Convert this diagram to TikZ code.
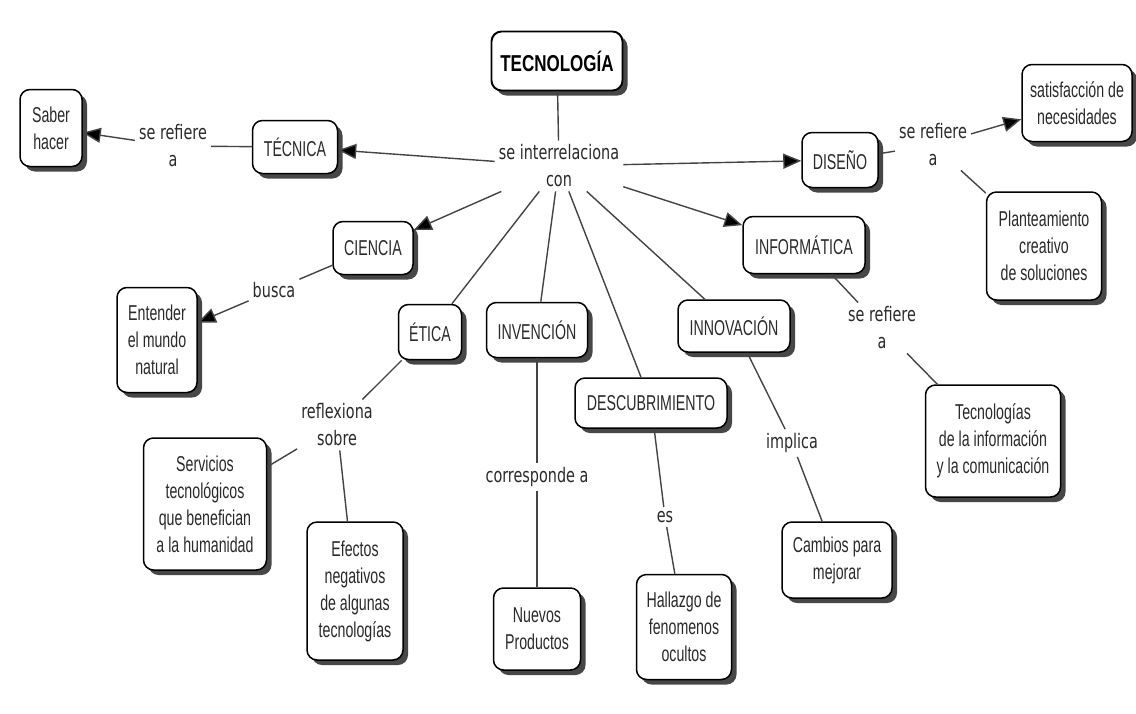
\documentclass[tikz,border=0pt]{standalone}
\usepackage{fontspec}
\setmainfont{Liberation Sans}[FakeStretch=0.66]
\newfontfamily\lblfont{DejaVu Sans}[FakeStretch=0.72]
\newfontfamily\titlefont{Liberation Sans}[FakeStretch=0.74]
\usetikzlibrary{shadows,arrows.meta}
\definecolor{txt}{HTML}{2A2A2A}
\definecolor{ln}{HTML}{444444}
\tikzset{
  box/.style={draw=black, line width=1.5pt, rounded corners=10pt, fill=white, align=center,
    inner sep=2pt, text=txt, font=\fontsize{21.5}{27}\selectfont,
    drop shadow={shadow xshift=5pt, shadow yshift=-5pt, fill=black!72, opacity=1}},
  lbl/.style={align=center, inner sep=4pt, text=txt, font=\lblfont\fontsize{20}{27}\selectfont},
  conn/.style={draw=ln, line width=1.4pt},
  arr/.style={conn, -{Triangle[length=18pt,width=15pt,fill=black]}}
}
\begin{document}
\begin{tikzpicture}[x=1pt,y=-1pt]
\useasboundingbox[fill=white] (0,0) rectangle (1136,713);
% main
\node[box, line width=1.9pt, minimum width=131pt, minimum height=59pt,
  font=\titlefont\bfseries\fontsize{23}{27}\selectfont, text=black] (tec) at (557,61) {TECNOLOGÍA};
\node[lbl] (l0) at (559,166) {se interrelaciona\\con};
% boxes
\node[box, minimum width=62pt, minimum height=77pt] (saber) at (51,128) {Saber\\hacer};
\node[box, minimum width=85pt, minimum height=53pt] (tecn) at (295,147) {TÉCNICA};
\node[box, minimum width=76pt, minimum height=55pt] (dis) at (840,160) {DISEÑO};
\node[box, minimum width=110pt, minimum height=77pt] (sat) at (1077,103) {satisfacción de\\necesidades};
\node[box, minimum width=115pt, minimum height=108pt] (plan) at (1044,246) {Planteamiento\\creativo\\de soluciones};
\node[box, minimum width=80pt, minimum height=53pt] (cie) at (373,248) {CIENCIA};
\node[box, minimum width=80pt, minimum height=105pt] (ent) at (157,340) {Entender\\el mundo\\natural};
\node[box, minimum width=63pt, minimum height=55pt] (eti) at (430,332) {ÉTICA};
\node[box, minimum width=123pt, minimum height=132pt] (serv) at (205,504) {Servicios\\tecnológicos\\que benefician\\a la humanidad};
\node[box, minimum width=96pt, minimum height=138pt] (efe) at (355,591) {Efectos\\negativos\\de algunas\\tecnologías};
\node[box, minimum width=101pt, minimum height=55pt] (inv) at (537,330) {INVENCIÓN};
\node[box, minimum width=87pt, minimum height=82pt] (nue) at (537,629) {Nuevos\\Productos};
\node[box, minimum width=152pt, minimum height=50pt] (des) at (651,403) {DESCUBRIMIENTO};
\node[box, minimum width=95pt, minimum height=105pt] (hal) at (684,627) {Hallazgo de\\fenomenos\\ocultos};
\node[box, minimum width=112pt, minimum height=52pt] (inn) at (734,326) {INNOVACIÓN};
\node[box, minimum width=110pt, minimum height=76pt] (cam) at (837,560) {Cambios para\\mejorar};
\node[box, minimum width=122pt, minimum height=57pt] (inf) at (804,245) {INFORMÁTICA};
\node[box, minimum width=135pt, minimum height=112pt] (tic) at (993,441) {Tecnologías\\de la información\\y la comunicación};
% labels
\node[lbl] (l1) at (173,146) {se refiere\\a};
\node[lbl] (l2) at (933,145) {se refiere\\a};
\node[lbl] (l3) at (274,290) {busca};
\node[lbl] (l4) at (337,425) {reflexiona\\sobre};
\node[lbl] (l5) at (537,477) {corresponde a};
\node[lbl] (l6) at (665,517) {es};
\node[lbl] (l7) at (792,443) {implica};
\node[lbl] (l8) at (882,328) {se refiere\\a};
% connectors
\draw[conn] (tec) -- (l0);
\draw[arr] (l0) -- (tecn);
\draw[arr] (l0) -- (dis);
\draw[arr] (l0) -- (cie);
\draw[arr] (l0) -- (inf);
\draw[conn] (l0) -- (eti);
\draw[conn] (l0) -- (inv);
\draw[conn] (l0) -- (des);
\draw[conn] (l0) -- (inn);
\draw[conn] (tecn) -- (l1);
\draw[arr] (l1) -- (saber);
\draw[conn] (dis) -- (l2);
\draw[arr] (l2) -- (sat);
\draw[conn] (l2) -- (plan);
\draw[conn] (cie) -- (l3);
\draw[arr] (l3) -- (ent);
\draw[conn] (eti) -- (l4);
\draw[conn] (l4) -- (serv);
\draw[conn] (l4) -- (efe);
\draw[conn] (inv) -- (l5);
\draw[conn] (l5) -- (nue);
\draw[conn] (des) -- (l6);
\draw[conn] (l6) -- (hal);
\draw[conn] (inn) -- (l7);
\draw[conn] (l7) -- (cam);
\draw[conn] (inf) -- (l8);
\draw[conn] (l8) -- (tic);
\end{tikzpicture}
\end{document}
